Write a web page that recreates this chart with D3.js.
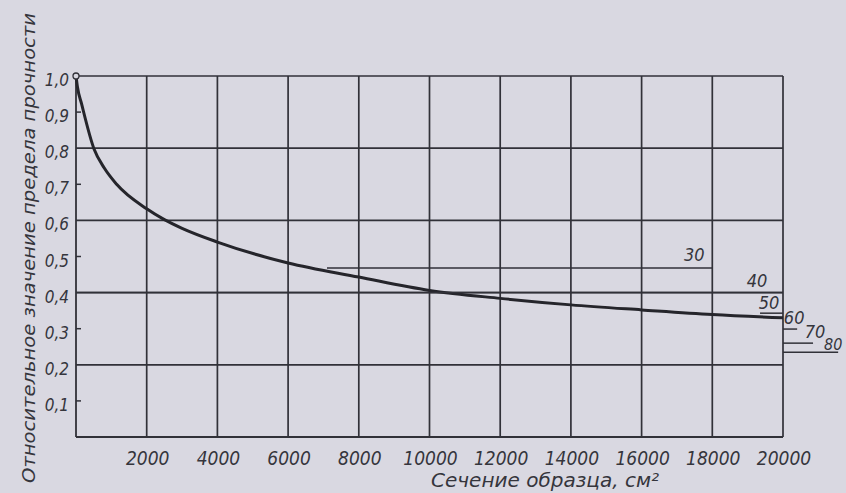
<!DOCTYPE html>
<html>
<head>
<meta charset="utf-8">
<script src="https://cdn.jsdelivr.net/npm/d3@7"></script>
<style>
  body { margin: 0; background: #d9d8e1; }
  svg { display: block; }
  text { font-family: "Liberation Sans Narrow", "DejaVu Sans Condensed", sans-serif; font-style: italic; fill: #35353c; }
</style>
</head>
<body>
<div class="chart"></div>
<script>
// curve: section (cm2) -> relative strength
var sections = [0, 40, 160, 510, 800, 1150, 2000, 2500, 3000, 4000, 6000, 8000, 10000, 12000, 14000, 16000, 18000, 20000];
var strength = [1.0, 0.97, 0.922, 0.798, 0.745, 0.70, 0.632, 0.602, 0.578, 0.540, 0.482, 0.443, 0.406, 0.384, 0.366, 0.352, 0.339, 0.330];

var xTicks = [2000, 4000, 6000, 8000, 10000, 12000, 14000, 16000, 18000, 20000];
var yTicks = [0.1, 0.2, 0.3, 0.4, 0.5, 0.6, 0.7, 0.8, 0.9, 1.0];
var yGrid = [0.2, 0.4, 0.6, 0.8, 1.0];

// side marks on the right
var markLabels = ["30", "40", "50", "60", "70", "80"];
var markValues = [0.468, 0.40, 0.343, 0.299, 0.26, 0.235];
var markFrom = [7100, 0, 19350, 20000, 20000, 20000];
var markTo = [18000, 20000, 20000, 20400, 20850, 21560];

var yTitle = "Относительное значение предела прочности";
var xTitle = "Сечение образца, см²";

var W = 846, H = 493;
var margin = {top: 76, right: 63, bottom: 56, left: 76},
    width = W - margin.left - margin.right,
    height = H - margin.top - margin.bottom;

var ink = "#313138";

var svg = d3.select(".chart").append("svg")
    .attr("width", W)
    .attr("height", H);

var g = svg.append("g")
    .attr("transform", "translate(" + margin.left + "," + margin.top + ")");

var xScale = d3.scaleLinear().domain([0, 20000]).range([0, width]);
var yScale = d3.scaleLinear().domain([0, 1]).range([height, 0]);

// grid
g.selectAll(".vgrid").data(xTicks).enter().append("line")
    .attr("x1", d => xScale(d)).attr("x2", d => xScale(d))
    .attr("y1", yScale(0)).attr("y2", yScale(1))
    .attr("stroke", ink).attr("stroke-width", 1.7);

g.selectAll(".hgrid").data(yGrid).enter().append("line")
    .attr("x1", xScale(0)).attr("x2", xScale(20000))
    .attr("y1", d => yScale(d)).attr("y2", d => yScale(d))
    .attr("stroke", ink).attr("stroke-width", 1.7);

// frame left and bottom
g.append("line").attr("x1", 0).attr("x2", 0).attr("y1", yScale(0)).attr("y2", yScale(1))
    .attr("stroke", ink).attr("stroke-width", 1.8);
g.append("line").attr("x1", 0).attr("x2", xScale(20000)).attr("y1", yScale(0)).attr("y2", yScale(0))
    .attr("stroke", ink).attr("stroke-width", 1.8);

// minor ticks on y
g.selectAll(".ytick").data(yTicks.filter(d => yGrid.indexOf(d) < 0)).enter().append("line")
    .attr("x1", 0).attr("x2", 5)
    .attr("y1", d => yScale(d)).attr("y2", d => yScale(d))
    .attr("stroke", ink).attr("stroke-width", 1.5);

// y tick labels
g.selectAll(".ylab").data(yTicks).enter().append("text")
    .attr("x", -7).attr("y", d => yScale(d) + 10)
    .attr("text-anchor", "end")
    .attr("font-size", 17)
    .text(d => d3.format(".1f")(d).replace(".", ","));

// x tick labels
g.selectAll(".xlab").data(xTicks).enter().append("text")
    .attr("x", d => xScale(d) + 1).attr("y", height + 28)
    .attr("text-anchor", "middle")
    .attr("font-size", 19)
    .text(d => d);

// curve
var line = d3.line()
    .x((d, i) => xScale(sections[i]))
    .y(d => yScale(d))
    .curve(d3.curveMonotoneX);

g.append("path")
    .datum(strength)
    .attr("d", line)
    .attr("fill", "none")
    .attr("stroke", "#25252b")
    .attr("stroke-width", 3);

g.append("circle")
    .attr("cx", xScale(0)).attr("cy", yScale(1)).attr("r", 3)
    .attr("fill", "#d9d8e1").attr("stroke", ink).attr("stroke-width", 1.3);

// side marks
g.selectAll(".mark").data(markValues).enter().append("line")
    .attr("x1", (d, i) => xScale(markFrom[i])).attr("x2", (d, i) => xScale(markTo[i]))
    .attr("y1", d => yScale(d)).attr("y2", d => yScale(d))
    .attr("stroke", ink).attr("stroke-width", 1.5);

var labelOffsets = [[-18, -7], [-26, -6], [-14, -4], [-3, -5], [2, -5], [-5, -2]];
g.selectAll(".marklab").data(markLabels).enter().append("text")
    .attr("x", (d, i) => xScale(markTo[i]) + labelOffsets[i][0])
    .attr("y", (d, i) => yScale(markValues[i]) + labelOffsets[i][1])
    .attr("text-anchor", "middle")
    .attr("font-size", (d, i) => i === 5 ? 16 : 18)
    .text(d => d);

// axis titles
svg.append("text")
    .attr("transform", "translate(35," + 248 + ") rotate(-90)")
    .attr("text-anchor", "middle")
    .attr("font-size", 18)
    .attr("textLength", 470)
    .attr("lengthAdjust", "spacingAndGlyphs")
    .text(yTitle);

svg.append("text")
    .attr("x", 545).attr("y", 487)
    .attr("text-anchor", "middle")
    .attr("font-size", 19)
    .attr("textLength", 228)
    .attr("lengthAdjust", "spacingAndGlyphs")
    .text(xTitle);
</script>
</body>
</html>
